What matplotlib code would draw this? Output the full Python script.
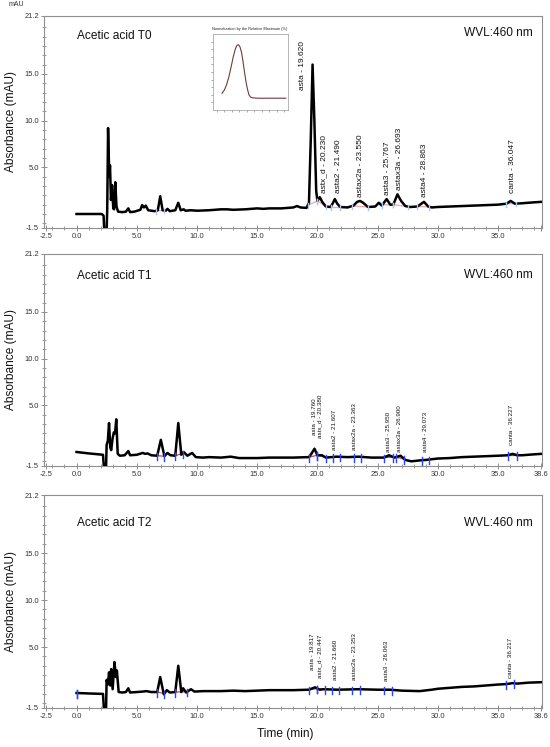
import numpy as np
import matplotlib
matplotlib.use("Agg")
import matplotlib.pyplot as plt

plt.rcParams['font.family'] = ['Liberation Sans', 'DejaVu Sans']

# ---------------- data ----------------
t0_time = [0.0, 1.0, 2.1, 2.25, 2.3, 2.5, 2.55, 2.62, 2.72, 2.78, 2.86, 2.95, 3.05, 3.12, 3.22,
           3.32, 3.45, 3.8, 4.1, 4.3, 4.45, 4.8, 5.3, 5.45, 5.6, 5.75, 5.95, 6.5, 6.75, 6.95,
           7.15, 7.4, 7.55, 7.75, 8.2, 8.45, 8.65, 8.9, 9.05, 9.5, 10.0, 11.0, 12.0, 12.5,
           13.0, 14.0, 15.0, 15.5, 16.0, 17.0, 18.0, 18.3, 18.6, 19.1, 19.3, 19.45, 19.6,
           19.75, 19.9, 20.0, 20.2, 20.4, 20.7, 21.1, 21.3, 21.45, 21.65, 21.9, 22.5, 23.0,
           23.3, 23.55, 23.8, 24.2, 24.8, 25.1, 25.35, 25.75, 26.05, 26.3, 26.65, 26.95, 27.3,
           27.7, 28.3, 28.85, 29.2, 29.5, 30.0, 31.0, 32.0, 33.0, 34.0, 35.0, 35.7, 36.05,
           36.4, 37.0, 38.0, 38.6]
t0_abs = [0.0, 0.0, 0.0, -0.2, -1.8, -1.8, 0.5, 9.2, 4.0, 5.2, 1.5, 3.1, 0.6, 0.5, 3.4,
          0.8, 0.25, 0.2, 0.25, 0.6, 0.2, 0.25, 0.45, 0.95, 0.7, 0.9, 0.4, 0.3, 0.4, 1.9,
          0.4, 0.35, 0.55, 0.3, 0.4, 1.2, 0.4, 0.5, 0.35, 0.4, 0.35, 0.4, 0.5, 0.5,
          0.45, 0.5, 0.6, 0.55, 0.6, 0.6, 0.7, 0.85, 0.7, 0.65, 1.2, 8.0, 16.0,
          10.0, 2.5, 1.4, 1.8, 1.3, 0.8, 0.75, 1.2, 1.6, 1.1, 0.75, 0.7, 0.9,
          1.3, 1.4, 1.2, 0.75, 0.8, 1.2, 0.9, 1.6, 1.0, 1.0, 2.1, 1.4, 0.85,
          0.75, 0.8, 1.3, 0.8, 0.7, 0.75, 0.8, 0.85, 0.9, 0.95, 1.0, 1.1, 1.4,
          1.1, 1.15, 1.25, 1.3]

t1_time = [0.0, 1.0, 2.2, 2.28, 2.45, 2.5, 2.6, 2.7, 2.8, 2.88, 3.0, 3.1, 3.2, 3.3, 3.42,
           3.6, 4.0, 4.3, 4.45, 5.0, 5.5, 5.7, 5.9, 6.2, 6.7, 7.0, 7.3, 7.55, 7.8, 8.2,
           8.45, 8.7, 8.9, 9.2, 9.6, 9.9, 10.5, 11.0, 12.0, 12.8, 13.5, 14.5, 15.0, 16.0,
           17.0, 18.0, 19.3, 19.5, 19.76, 20.0, 20.38, 20.7, 21.6, 22.5, 23.4, 24.5, 25.5,
           25.95, 26.4, 26.9, 27.3, 27.8, 28.5, 29.0, 30.0, 31.0, 32.0, 33.0, 34.0, 35.0,
           35.8, 36.2, 36.6, 37.0, 38.0, 38.6]
t1_abs = [0.0, -0.15, -0.3, -1.8, -1.8, 0.75, 1.2, 3.1, 0.5, 0.2, 1.5, 2.1, 2.0, 3.5, -0.2,
          -0.4, -0.35, 0.1, -0.35, -0.3, -0.1, -0.2, -0.15, -0.35, -0.4, 1.3, -0.45, -0.1, -0.35, -0.4,
          3.1, -0.3, 0.0, -0.4, -0.1, -0.55, -0.6, -0.55, -0.6, -0.5, -0.65, -0.65, -0.65, -0.6,
          -0.6, -0.6, -0.55, -0.2, 0.35, -0.35, -0.35, -0.6, -0.5, -0.55, -0.5, -0.6, -0.6,
          -0.35, -0.6, -0.4, -0.85, -1.0, -0.9, -0.85, -0.7, -0.65, -0.55, -0.5, -0.45, -0.4,
          -0.35, -0.2, -0.35, -0.35, -0.25, -0.2]

t2_time = [0.0, 1.0, 2.2, 2.28, 2.45, 2.5, 2.6, 2.7, 2.8, 2.88, 3.0, 3.15, 3.27, 3.35, 3.5,
           3.8, 4.1, 4.3, 4.45, 5.0, 5.5, 5.8, 6.2, 6.7, 6.95, 7.25, 7.5, 7.75, 8.2, 8.45,
           8.7, 8.85, 9.1, 9.5, 9.8, 10.5, 12.0, 13.0, 14.0, 15.0, 16.0, 17.0, 18.0, 19.3,
           19.8, 20.2, 20.5, 21.7, 23.4, 25.0, 26.0, 27.0, 28.5, 29.5, 30.0, 31.0, 32.0, 33.0,
           34.0, 35.0, 35.7, 36.2, 36.6, 37.5, 38.6]
t2_abs = [0.1, 0.05, 0.0, -1.8, -1.8, 1.5, 1.0, 2.3, 0.9, 2.65, 0.5, 3.4, 1.8, 2.5, 0.2,
          0.15, 0.2, 0.6, 0.15, 0.2, 0.25, 0.3, 0.2, 0.2, 1.8, -0.05, 0.4, 0.15, 0.2, 3.0,
          0.2, 0.6, 0.15, 0.5, 0.25, 0.3, 0.3, 0.35, 0.3, 0.35, 0.4, 0.4, 0.4, 0.45,
          0.7, 0.45, 0.5, 0.45, 0.5, 0.45, 0.45, 0.35, 0.3, 0.45, 0.55, 0.65, 0.75, 0.8,
          0.9, 1.0, 1.05, 1.15, 1.1, 1.2, 1.25]

# integration windows (start, end) in minutes
t0_windows = [(6.6, 7.3), (19.2, 20.0), (20.0, 20.7), (21.1, 21.9), (22.9, 24.2),
              (25.4, 26.3), (26.3, 27.5), (28.3, 29.3), (35.7, 36.5)]
t1_windows = [(6.7, 7.3), (8.2, 8.8), (19.3, 20.0), (20.0, 20.7), (21.3, 21.9),
              (23.0, 23.6), (25.5, 26.3), (26.5, 27.2), (28.7, 29.3), (35.8, 36.6)]
t2_windows = [(0.0, 0.0), (6.7, 7.3), (8.2, 9.2), (19.3, 20.0), (20.0, 20.6), (21.2, 21.8),
              (22.9, 23.5), (25.5, 26.2), (35.7, 36.3)]

t0_peaks = ["asta - 19.620", "astx_d - 20.230", "asta2 - 21.490", "astax2a - 23.550",
            "asta3 - 25.767", "astax3a - 26.693", "asta4 - 28.863", "canta - 36.047"]
t1_peaks = ["asta - 19.760", "astx_d - 20.380", "asta2 - 21.607", "astax2a - 23.363",
            "asta3 - 25.950", "astax3a - 26.900", "asta4 - 29.073", "canta - 36.227"]
t2_peaks = ["asta - 19.817", "astx_d - 20.447", "asta2 - 21.660", "astax2a - 23.353",
            "asta3 - 26.063", "canta - 36.217"]

panel_titles = ["Acetic acid T0", "Acetic acid T1", "Acetic acid T2"]

inset_x = [12, 15, 18, 21, 24, 27, 30, 32, 34, 36, 38, 40, 42, 44, 46, 48, 50, 53, 60, 70, 80, 97]
inset_y = [22, 26, 33, 43, 56, 70, 81, 85, 86, 83, 76, 64, 50, 37, 27, 20, 17, 16, 15.5, 15.5, 15.5, 15.5]

y_ticks = [-1.5, 5.0, 10.0, 15.0, 21.2]
x_ticks = [-2.5, 0.0, 5.0, 10.0, 15.0, 20.0, 25.0, 30.0, 35.0, 38.6]

# ---------------- layout (label anchor positions: time, value) ----------------
t0_label_pos = [(18.8, 13.3), (20.56, 2.25), (21.72, 2.25), (23.55, 1.82),
                (25.79, 2.04), (26.79, 2.57), (28.86, 1.82), (36.17, 2.25)]
t1_label_pos = [(19.72, 1.82), (20.22, 1.5), (21.39, 0.22), (23.05, 0.22),
                (25.88, 0.0), (26.79, 0.0), (28.95, 0.0), (36.09, 0.75)]
t2_label_pos = [(19.56, 2.55), (20.22, 1.69), (21.47, 1.48), (23.05, 1.48),
                (25.71, 1.37), (36.0, 1.69)]

W, H = 550, 747
fig = plt.figure(figsize=(W / 100, H / 100), dpi=100)

def fx(px):
    return px / W

def fy(py):
    return 1 - py / H

panels = [
    dict(top=16, bot=228, time=t0_time, ab=t0_abs, win=t0_windows, names=t0_peaks,
         lpos=t0_label_pos, lfs=6.0, red='#f4a6a6', blue='#a9c6f7', mk=(0.3, 0.2), title_y=36,
         wvl_y=33, show_end=False),
    dict(top=254, bot=466, time=t1_time, ab=t1_abs, win=t1_windows, names=t1_peaks,
         lpos=t1_label_pos, lfs=4.5, red='#e83a3a', blue='#2845ff', mk=(0.5, 0.3), title_y=276,
         wvl_y=275, show_end=True),
    dict(top=495, bot=708, time=t2_time, ab=t2_abs, win=t2_windows, names=t2_peaks,
         lpos=t2_label_pos, lfs=4.5, red='#e83a3a', blue='#2845ff', mk=(0.5, 0.3), title_y=523,
         wvl_y=523, show_end=True),
]

left_px, right_px = 44, 542
spine_c = '#8f8f8f'
for i, p in enumerate(panels):
    ax = fig.add_axes([fx(left_px), fy(p['bot']), fx(right_px - left_px),
                       (p['bot'] - p['top']) / H])
    ax.set_xlim(-2.7, 38.65)
    ax.set_ylim(-1.5, 21.2)
    tt = np.array(p['time'])
    aa = np.array(p['ab'])
    dn, up = p['mk']
    # integration baselines and markers
    for (s, e) in p['win']:
        vs = np.interp(s, tt, aa)
        ve = np.interp(e, tt, aa)
        if e > s:
            ax.plot([s, e], [vs, ve], color=p['red'], lw=0.9, zorder=2)
        for tb, vb in ((s, vs), (e, ve)):
            ax.plot([tb, tb], [vb - dn, vb + up], color=p['blue'], lw=1.0, zorder=4)
    ax.plot(tt, aa, color='black', lw=1.8, zorder=3, solid_joinstyle='round')
    # peak labels
    for name, (lx, ly) in zip(p['names'], p['lpos']):
        ax.text(lx, ly, name, rotation=90, ha='center', va='bottom', fontsize=p['lfs'],
                color='#111111', zorder=5)
    # ticks
    ax.set_yticks(y_ticks)
    ax.set_yticklabels([f"{v:.1f}" for v in y_ticks])
    ax.set_xticks(x_ticks)
    xl = [f"{v:.1f}" for v in x_ticks]
    if not p['show_end']:
        xl[-1] = ""
    ax.set_xticklabels(xl)
    ax.set_xticks(np.arange(-2, 39, 1.0), minor=True)
    ax.set_yticks(np.arange(-1, 21, 1.0), minor=True)
    ax.tick_params(axis='both', which='major', direction='inout', length=4, width=0.7,
                   color=spine_c, labelsize=5.4, labelcolor='#333333', pad=1.5)
    ax.tick_params(axis='both', which='minor', direction='inout', length=2.2, width=0.6,
                   color=spine_c)
    for sp in ax.spines.values():
        sp.set_color(spine_c)
        sp.set_linewidth(0.8)
    # titles
    fig.text(fx(77), fy(p['title_y']), panel_titles[i], fontsize=8.6, ha='left',
             va='center', color='#111111')
    fig.text(fx(533), fy(p['wvl_y']), "WVL:460 nm", fontsize=8.6, ha='right',
             va='center', color='#111111')
    fig.text(fx(11), fy((p['top'] + p['bot']) / 2), "Absorbance (mAU)", rotation=90,
             fontsize=8.6, ha='center', va='center', color='#111111')

fig.text(fx(16), fy(5), "mAU", fontsize=5, ha='center', va='center', color='#333333')
fig.text(fx(285), fy(734), "Time (min)", fontsize=8.6, ha='center', va='center',
         color='#111111')

# inset (spectrum)
ins = fig.add_axes([fx(213), fy(110), fx(75), 76 / H])
ins.plot(inset_x, inset_y, color='#6e3b3b', lw=0.8)
ins.set_xlim(0, 100)
ins.set_ylim(0, 100)
ins.set_xticks(np.arange(5, 100, 10))
ins.set_yticks(np.arange(10, 100, 10))
ins.tick_params(length=1.2, width=0.4, labelsize=1.6, pad=1, colors='#666666')
ins.set_xticklabels(['' for _ in ins.get_xticks()])
ins.set_yticklabels(['' for _ in ins.get_yticks()])
for sp in ins.spines.values():
    sp.set_color('#9a9a9a')
    sp.set_linewidth(0.5)
fig.text(fx(250), fy(29), "Normalization by the Relative Maximum (%)", fontsize=2.8,
         ha='center', va='center', color='#222222')

fig.savefig("out.png", dpi=100)
